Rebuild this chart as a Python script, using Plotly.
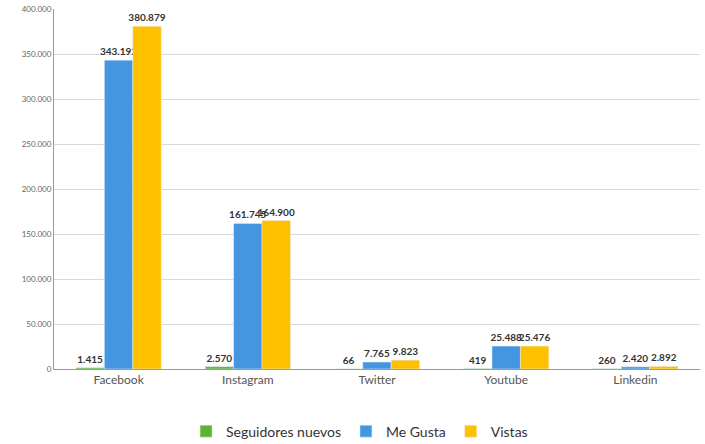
import plotly.graph_objects as go

categories = ["Facebook", "Instagram", "Twitter", "Youtube", "Linkedin"]
seguidores = [1415, 2570, 66, 419, 260]
me_gusta = [343192, 161745, 7765, 25488, 2420]
vistas = [380879, 164900, 9823, 25476, 2892]
y_ticks = [0, 50000, 100000, 150000, 200000, 250000, 300000, 350000, 400000]

series = [
    ("Seguidores nuevos", seguidores, "#5DB233"),
    ("Me Gusta", me_gusta, "#4596E0"),
    ("Vistas", vistas, "#FFC000"),
]

fig = go.Figure()
for name, vals, color in series:
    fig.add_trace(go.Bar(
        x=categories, y=vals, name=name, marker_color=color,
        texttemplate="%{y:,d}", textposition="outside",
        textfont=dict(family="Lato", size=10, color="#333333", weight="bold"),
        constraintext="none", cliponaxis=False,
    ))

fig.update_layout(
    width=705, height=444,
    margin=dict(l=54, r=5, t=9, b=75),
    paper_bgcolor="white", plot_bgcolor="white",
    barmode="group", bargap=0.34, bargroupgap=0,
    separators=",.",
    font=dict(family="Lato", color="#555555"),
    legend=dict(orientation="h", xref="container", x=0.51, xanchor="center",
                yref="container", y=0.028, yanchor="middle",
                font=dict(size=14, color="#333333"), itemwidth=30, traceorder="normal"),
    showlegend=True,
)
fig.update_xaxes(showline=True, linecolor="#9a9a9a", linewidth=1, automargin=False,
                 tickfont=dict(size=12, color="#555555"), ticks="")
fig.update_yaxes(range=[0, 400000], tickvals=y_ticks, tickformat=",d", automargin=False,
                 showgrid=True, gridcolor="#d9d9d9", showline=True, linecolor="#9a9a9a",
                 zeroline=False, tickfont=dict(size=8, color="#666666"), ticks="")

fig.write_html("out.html", config={"displayModeBar": False},
               post_script="document.body.style.margin='0';")
